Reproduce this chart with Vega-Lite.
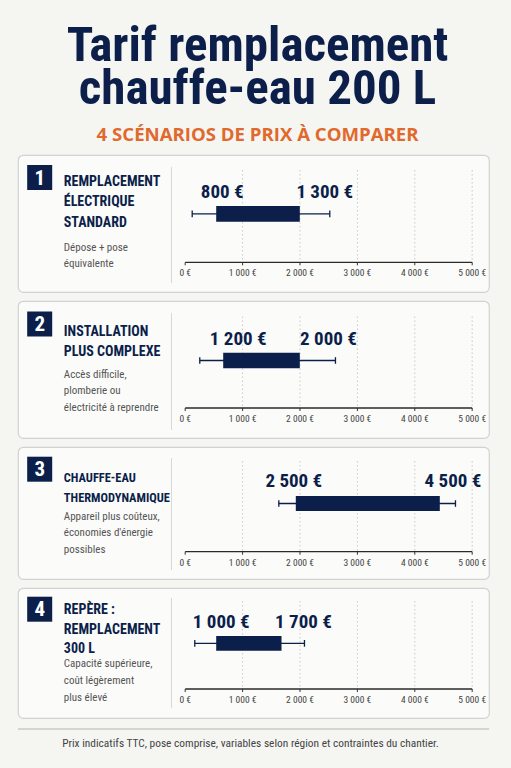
{
  "$schema": "https://vega.github.io/schema/vega-lite/v6.json",
  "padding": {"left": 17, "right": 22, "top": 21, "bottom": 14},
  "spacing": 9,
  "bounds": "flush",
  "title": {
    "text": ["Tarif remplacement", "chauffe-eau 200 L"],
    "subtitle": "4 SCÉNARIOS DE PRIX À COMPARER",
    "anchor": "middle",
    "dx": 4,
    "font": "Roboto Condensed, Roboto",
    "fontSize": 49,
    "fontWeight": "bold",
    "color": "#0c1f4a",
    "lineHeight": 43,
    "subtitleFont": "Open Sans",
    "subtitleFontSize": 18.6,
    "subtitleFontWeight": "bold",
    "subtitleColor": "#e0692b",
    "subtitlePadding": 12,
    "offset": 10
  },
  "datasets": {
    "scenarios": [
      {"id": 1, "num": "1", "title": "REMPLACEMENT\nÉLECTRIQUE\nSTANDARD", "desc": "Dépose + pose\néquivalente", "wlo": 122, "q1": 540, "q3": 1997, "whi": 2519, "lo_label": "800 €", "hi_label": "1 300 €"},
      {"id": 2, "num": "2", "title": "INSTALLATION\nPLUS COMPLEXE", "desc": "Accès difficile,\nplomberie ou\nélectricité à reprendre", "wlo": 254, "q1": 662, "q3": 1997, "whi": 2618, "lo_label": "1 200 €", "hi_label": "2 000 €"},
      {"id": 3, "num": "3", "title": "CHAUFFE-EAU\nTHERMODYNAMIQUE", "desc": "Appareil plus coûteux,\néconomies d'énergie\npossibles", "wlo": 1631, "q1": 1927, "q3": 4436, "whi": 4709, "lo_label": "2 500 €", "hi_label": "4 500 €"},
      {"id": 4, "num": "4", "title": "REPÈRE :\nREMPLACEMENT\n300 L", "desc": "Capacité supérieure,\ncoût légèrement\nplus élevé", "wlo": 167, "q1": 540, "q3": 1678, "whi": 2078, "lo_label": "1 000 €", "hi_label": "1 700 €"}
    ],
    "ticks": [
      {"v": 0, "label": "0 €"}, {"v": 1000, "label": "1 000 €"}, {"v": 2000, "label": "2 000 €"},
      {"v": 3000, "label": "3 000 €"}, {"v": 4000, "label": "4 000 €"}, {"v": 5000, "label": "5 000 €"}
    ],
    "notes": [{"note": "Prix indicatifs TTC, pose comprise, variables selon région et contraintes du chantier."}]
  },
  "vconcat": [
    {
      "width": 471, "height": 137,
      "data": {"name": "scenarios"},
      "transform": [{"filter": "datum.id == 1"}],
      "layer": [
        {"data": {"name": "ticks"}, "transform": [{"filter": "datum.v > 0"}], "mark": {"type": "rule", "color": "#c9c9c9", "strokeDash": [1.5, 2.5], "strokeWidth": 1},
         "encoding": {
           "x": {"field": "v", "type": "quantitative", "scale": {"domain": [-2913, 5293], "nice": false, "zero": false}},
           "y": {"datum": 15, "scale": {"domain": [0, 137], "reverse": true, "nice": false, "zero": false}},
           "y2": {"datum": 107.3}}},
        {"data": {"name": "ticks"}, "mark": {"type": "rule", "color": "#333333", "strokeWidth": 1},
         "encoding": {"x": {"field": "v", "type": "quantitative"}, "y": {"datum": 107.3}, "y2": {"datum": 110.3}}},
        {"data": {"name": "ticks"}, "mark": {"type": "text", "color": "#444444", "fontSize": 9.5, "align": "center", "baseline": "middle"},
         "encoding": {"x": {"field": "v", "type": "quantitative"}, "y": {"datum": 118.3}, "text": {"field": "label"}}},
        {"mark": {"type": "rule", "color": "#2a2a2a", "strokeWidth": 1.3},
         "encoding": {"x": {"datum": 0}, "x2": {"datum": 5000}, "y": {"datum": 107.3}}},
        {"mark": {"type": "rule", "color": "#d8d8d8", "strokeWidth": 1},
         "encoding": {"x": {"datum": -239}, "y": {"datum": 12}, "y2": {"datum": 128}}},
        {"mark": {"type": "rule", "color": "#0c1f4a", "strokeWidth": 1.3},
         "encoding": {"x": {"field": "wlo", "type": "quantitative"}, "x2": {"field": "whi"}, "y": {"datum": 58.85}}},
        {"mark": {"type": "rule", "color": "#0c1f4a", "strokeWidth": 1.3},
         "encoding": {"x": {"field": "wlo", "type": "quantitative"}, "y": {"datum": 55.5}, "y2": {"datum": 62.2}}},
        {"mark": {"type": "rule", "color": "#0c1f4a", "strokeWidth": 1.3},
         "encoding": {"x": {"field": "whi", "type": "quantitative"}, "y": {"datum": 55.5}, "y2": {"datum": 62.2}}},
        {"mark": {"type": "rect", "color": "#0c1f4a"},
         "encoding": {"x": {"field": "q1", "type": "quantitative"}, "x2": {"field": "q3"}, "y": {"datum": 51}, "y2": {"datum": 66.7}}},
        {"mark": {"type": "text", "color": "#0c1f4a", "fontSize": 19, "fontWeight": "bold", "align": "center", "baseline": "alphabetic", "dx": 6},
         "encoding": {"x": {"field": "q1", "type": "quantitative"}, "y": {"datum": 42.7}, "text": {"field": "lo_label"}}},
        {"mark": {"type": "text", "color": "#0c1f4a", "fontSize": 19, "fontWeight": "bold", "align": "center", "baseline": "alphabetic", "dx": -5},
         "encoding": {"x": {"field": "whi", "type": "quantitative"}, "y": {"datum": 42.7}, "text": {"field": "hi_label"}}},
        {"mark": {"type": "rect", "color": "#0c1f4a"},
         "encoding": {"x": {"datum": -2753}, "x2": {"datum": -2317}, "y": {"datum": 10}, "y2": {"datum": 35}}},
        {"mark": {"type": "text", "color": "#ffffff", "fontSize": 21, "fontWeight": "bold", "align": "center", "baseline": "middle", "dy": 1},
         "encoding": {"x": {"datum": -2535}, "y": {"datum": 22.5}, "text": {"field": "num"}}},
        {"mark": {"type": "text", "color": "#0c1f4a", "fontSize": 14, "fontWeight": "bold", "align": "left", "baseline": "alphabetic", "lineBreak": "\n", "lineHeight": 20.5},
         "encoding": {"x": {"datum": -2115}, "y": {"datum": 30.5}, "text": {"field": "title"}}},
        {"mark": {"type": "text", "color": "#555555", "fontSize": 11, "align": "left", "baseline": "alphabetic", "lineBreak": "\n", "lineHeight": 16.5},
         "encoding": {"x": {"datum": -2115}, "y": {"datum": 95.5}, "text": {"field": "desc"}}}
      ]
    },
    {
      "width": 471, "height": 137,
      "data": {"name": "scenarios"},
      "transform": [{"filter": "datum.id == 2"}],
      "layer": [
        {"data": {"name": "ticks"}, "transform": [{"filter": "datum.v > 0"}], "mark": {"type": "rule", "color": "#c9c9c9", "strokeDash": [1.5, 2.5], "strokeWidth": 1},
         "encoding": {
           "x": {"field": "v", "type": "quantitative", "scale": {"domain": [-2913, 5293], "nice": false, "zero": false}},
           "y": {"datum": 15.5, "scale": {"domain": [0, 137], "reverse": true, "nice": false, "zero": false}},
           "y2": {"datum": 107}}},
        {"data": {"name": "ticks"}, "mark": {"type": "rule", "color": "#333333", "strokeWidth": 1},
         "encoding": {"x": {"field": "v", "type": "quantitative"}, "y": {"datum": 107}, "y2": {"datum": 110}}},
        {"data": {"name": "ticks"}, "mark": {"type": "text", "color": "#444444", "fontSize": 9.5, "align": "center", "baseline": "middle"},
         "encoding": {"x": {"field": "v", "type": "quantitative"}, "y": {"datum": 118}, "text": {"field": "label"}}},
        {"mark": {"type": "rule", "color": "#2a2a2a", "strokeWidth": 1.3},
         "encoding": {"x": {"datum": 0}, "x2": {"datum": 5000}, "y": {"datum": 107}}},
        {"mark": {"type": "rule", "color": "#d8d8d8", "strokeWidth": 1},
         "encoding": {"x": {"datum": -239}, "y": {"datum": 12}, "y2": {"datum": 129}}},
        {"mark": {"type": "rule", "color": "#0c1f4a", "strokeWidth": 1.3},
         "encoding": {"x": {"field": "wlo", "type": "quantitative"}, "x2": {"field": "whi"}, "y": {"datum": 59.5}}},
        {"mark": {"type": "rule", "color": "#0c1f4a", "strokeWidth": 1.3},
         "encoding": {"x": {"field": "wlo", "type": "quantitative"}, "y": {"datum": 56.2}, "y2": {"datum": 62.8}}},
        {"mark": {"type": "rule", "color": "#0c1f4a", "strokeWidth": 1.3},
         "encoding": {"x": {"field": "whi", "type": "quantitative"}, "y": {"datum": 56.2}, "y2": {"datum": 62.8}}},
        {"mark": {"type": "rect", "color": "#0c1f4a"},
         "encoding": {"x": {"field": "q1", "type": "quantitative"}, "x2": {"field": "q3"}, "y": {"datum": 51.7}, "y2": {"datum": 67.3}}},
        {"mark": {"type": "text", "color": "#0c1f4a", "fontSize": 19, "fontWeight": "bold", "align": "center", "baseline": "alphabetic", "dx": 15},
         "encoding": {"x": {"field": "q1", "type": "quantitative"}, "y": {"datum": 44}, "text": {"field": "lo_label"}}},
        {"mark": {"type": "text", "color": "#0c1f4a", "fontSize": 19, "fontWeight": "bold", "align": "center", "baseline": "alphabetic", "dx": -7},
         "encoding": {"x": {"field": "whi", "type": "quantitative"}, "y": {"datum": 44}, "text": {"field": "hi_label"}}},
        {"mark": {"type": "rect", "color": "#0c1f4a"},
         "encoding": {"x": {"datum": -2753}, "x2": {"datum": -2317}, "y": {"datum": 10.5}, "y2": {"datum": 35.5}}},
        {"mark": {"type": "text", "color": "#ffffff", "fontSize": 21, "fontWeight": "bold", "align": "center", "baseline": "middle", "dy": 1},
         "encoding": {"x": {"datum": -2535}, "y": {"datum": 23}, "text": {"field": "num"}}},
        {"mark": {"type": "text", "color": "#0c1f4a", "fontSize": 14, "fontWeight": "bold", "align": "left", "baseline": "alphabetic", "lineBreak": "\n", "lineHeight": 20.5},
         "encoding": {"x": {"datum": -2115}, "y": {"datum": 34.5}, "text": {"field": "title"}}},
        {"mark": {"type": "text", "color": "#555555", "fontSize": 11, "align": "left", "baseline": "alphabetic", "lineBreak": "\n", "lineHeight": 16.8},
         "encoding": {"x": {"datum": -2115}, "y": {"datum": 76.5}, "text": {"field": "desc"}}}
      ]
    },
    {
      "width": 471, "height": 132,
      "data": {"name": "scenarios"},
      "transform": [{"filter": "datum.id == 3"}],
      "layer": [
        {"data": {"name": "ticks"}, "transform": [{"filter": "datum.v > 0"}], "mark": {"type": "rule", "color": "#c9c9c9", "strokeDash": [1.5, 2.5], "strokeWidth": 1},
         "encoding": {
           "x": {"field": "v", "type": "quantitative", "scale": {"domain": [-2913, 5293], "nice": false, "zero": false}},
           "y": {"datum": 14, "scale": {"domain": [0, 132], "reverse": true, "nice": false, "zero": false}},
           "y2": {"datum": 104.7}}},
        {"data": {"name": "ticks"}, "mark": {"type": "rule", "color": "#333333", "strokeWidth": 1},
         "encoding": {"x": {"field": "v", "type": "quantitative"}, "y": {"datum": 104.7}, "y2": {"datum": 107.7}}},
        {"data": {"name": "ticks"}, "mark": {"type": "text", "color": "#444444", "fontSize": 9.5, "align": "center", "baseline": "middle"},
         "encoding": {"x": {"field": "v", "type": "quantitative"}, "y": {"datum": 115.7}, "text": {"field": "label"}}},
        {"mark": {"type": "rule", "color": "#2a2a2a", "strokeWidth": 1.3},
         "encoding": {"x": {"datum": 0}, "x2": {"datum": 5000}, "y": {"datum": 104.7}}},
        {"mark": {"type": "rule", "color": "#d8d8d8", "strokeWidth": 1},
         "encoding": {"x": {"datum": -239}, "y": {"datum": 11}, "y2": {"datum": 123}}},
        {"mark": {"type": "rule", "color": "#0c1f4a", "strokeWidth": 1.3},
         "encoding": {"x": {"field": "wlo", "type": "quantitative"}, "x2": {"field": "whi"}, "y": {"datum": 56.5}}},
        {"mark": {"type": "rule", "color": "#0c1f4a", "strokeWidth": 1.3},
         "encoding": {"x": {"field": "wlo", "type": "quantitative"}, "y": {"datum": 53.2}, "y2": {"datum": 59.8}}},
        {"mark": {"type": "rule", "color": "#0c1f4a", "strokeWidth": 1.3},
         "encoding": {"x": {"field": "whi", "type": "quantitative"}, "y": {"datum": 53.2}, "y2": {"datum": 59.8}}},
        {"mark": {"type": "rect", "color": "#0c1f4a"},
         "encoding": {"x": {"field": "q1", "type": "quantitative"}, "x2": {"field": "q3"}, "y": {"datum": 49}, "y2": {"datum": 64}}},
        {"mark": {"type": "text", "color": "#0c1f4a", "fontSize": 19, "fontWeight": "bold", "align": "center", "baseline": "alphabetic", "dx": -2},
         "encoding": {"x": {"field": "q1", "type": "quantitative"}, "y": {"datum": 39.7}, "text": {"field": "lo_label"}}},
        {"mark": {"type": "text", "color": "#0c1f4a", "fontSize": 19, "fontWeight": "bold", "align": "center", "baseline": "alphabetic", "dx": -2.5},
         "encoding": {"x": {"field": "whi", "type": "quantitative"}, "y": {"datum": 39.7}, "text": {"field": "hi_label"}}},
        {"mark": {"type": "rect", "color": "#0c1f4a"},
         "encoding": {"x": {"datum": -2753}, "x2": {"datum": -2317}, "y": {"datum": 9.7}, "y2": {"datum": 34.7}}},
        {"mark": {"type": "text", "color": "#ffffff", "fontSize": 21, "fontWeight": "bold", "align": "center", "baseline": "middle", "dy": 1},
         "encoding": {"x": {"datum": -2535}, "y": {"datum": 22.2}, "text": {"field": "num"}}},
        {"mark": {"type": "text", "color": "#0c1f4a", "fontSize": 12.4, "fontWeight": "bold", "align": "left", "baseline": "alphabetic", "lineBreak": "\n", "lineHeight": 20.5},
         "encoding": {"x": {"datum": -2115}, "y": {"datum": 34.5}, "text": {"field": "title"}}},
        {"mark": {"type": "text", "color": "#555555", "fontSize": 11, "align": "left", "baseline": "alphabetic", "lineBreak": "\n", "lineHeight": 16.5},
         "encoding": {"x": {"datum": -2115}, "y": {"datum": 72.5}, "text": {"field": "desc"}}}
      ]
    },
    {
      "width": 471, "height": 130,
      "data": {"name": "scenarios"},
      "transform": [{"filter": "datum.id == 4"}],
      "layer": [
        {"data": {"name": "ticks"}, "transform": [{"filter": "datum.v > 0"}], "mark": {"type": "rule", "color": "#c9c9c9", "strokeDash": [1.5, 2.5], "strokeWidth": 1},
         "encoding": {
           "x": {"field": "v", "type": "quantitative", "scale": {"domain": [-2913, 5293], "nice": false, "zero": false}},
           "y": {"datum": 13, "scale": {"domain": [0, 130], "reverse": true, "nice": false, "zero": false}},
           "y2": {"datum": 101}}},
        {"data": {"name": "ticks"}, "mark": {"type": "rule", "color": "#333333", "strokeWidth": 1},
         "encoding": {"x": {"field": "v", "type": "quantitative"}, "y": {"datum": 101}, "y2": {"datum": 104}}},
        {"data": {"name": "ticks"}, "mark": {"type": "text", "color": "#444444", "fontSize": 9.5, "align": "center", "baseline": "middle"},
         "encoding": {"x": {"field": "v", "type": "quantitative"}, "y": {"datum": 112}, "text": {"field": "label"}}},
        {"mark": {"type": "rule", "color": "#2a2a2a", "strokeWidth": 1.3},
         "encoding": {"x": {"datum": 0}, "x2": {"datum": 5000}, "y": {"datum": 101}}},
        {"mark": {"type": "rule", "color": "#d8d8d8", "strokeWidth": 1},
         "encoding": {"x": {"datum": -239}, "y": {"datum": 10}, "y2": {"datum": 120}}},
        {"mark": {"type": "rule", "color": "#0c1f4a", "strokeWidth": 1.3},
         "encoding": {"x": {"field": "wlo", "type": "quantitative"}, "x2": {"field": "whi"}, "y": {"datum": 55.35}}},
        {"mark": {"type": "rule", "color": "#0c1f4a", "strokeWidth": 1.3},
         "encoding": {"x": {"field": "wlo", "type": "quantitative"}, "y": {"datum": 52}, "y2": {"datum": 58.7}}},
        {"mark": {"type": "rule", "color": "#0c1f4a", "strokeWidth": 1.3},
         "encoding": {"x": {"field": "whi", "type": "quantitative"}, "y": {"datum": 52}, "y2": {"datum": 58.7}}},
        {"mark": {"type": "rect", "color": "#0c1f4a"},
         "encoding": {"x": {"field": "q1", "type": "quantitative"}, "x2": {"field": "q3"}, "y": {"datum": 48}, "y2": {"datum": 62.7}}},
        {"mark": {"type": "text", "color": "#0c1f4a", "fontSize": 19, "fontWeight": "bold", "align": "center", "baseline": "alphabetic", "dx": 5},
         "encoding": {"x": {"field": "q1", "type": "quantitative"}, "y": {"datum": 40.3}, "text": {"field": "lo_label"}}},
        {"mark": {"type": "text", "color": "#0c1f4a", "fontSize": 19, "fontWeight": "bold", "align": "center", "baseline": "alphabetic", "dx": -1},
         "encoding": {"x": {"field": "whi", "type": "quantitative"}, "y": {"datum": 40.3}, "text": {"field": "hi_label"}}},
        {"mark": {"type": "rect", "color": "#0c1f4a"},
         "encoding": {"x": {"datum": -2753}, "x2": {"datum": -2317}, "y": {"datum": 8.7}, "y2": {"datum": 33.7}}},
        {"mark": {"type": "text", "color": "#ffffff", "fontSize": 21, "fontWeight": "bold", "align": "center", "baseline": "middle", "dy": 1},
         "encoding": {"x": {"datum": -2535}, "y": {"datum": 21.2}, "text": {"field": "num"}}},
        {"mark": {"type": "text", "color": "#0c1f4a", "fontSize": 14, "fontWeight": "bold", "align": "left", "baseline": "alphabetic", "lineBreak": "\n", "lineHeight": 19.5},
         "encoding": {"x": {"datum": -2115}, "y": {"datum": 26}, "text": {"field": "title"}}},
        {"mark": {"type": "text", "color": "#555555", "fontSize": 11, "align": "left", "baseline": "alphabetic", "lineBreak": "\n", "lineHeight": 17},
         "encoding": {"x": {"datum": -2115}, "y": {"datum": 78.5}, "text": {"field": "desc"}}}
      ]
    },
    {
      "width": 471, "height": 30,
      "view": {"stroke": null, "fill": null},
      "data": {"name": "notes"},
      "layer": [
        {"mark": {"type": "rule", "color": "#c8c8c8", "strokeWidth": 1.5},
         "encoding": {"x": {"datum": -2913, "scale": {"domain": [-2913, 5293], "nice": false, "zero": false}}, "x2": {"datum": 5293},
                      "y": {"datum": 2, "scale": {"domain": [0, 30], "reverse": true, "nice": false, "zero": false}}}},
        {"mark": {"type": "text", "color": "#444444", "fontSize": 11.4, "align": "center", "baseline": "middle"},
         "encoding": {"x": {"datum": 1138}, "y": {"datum": 17}, "text": {"field": "note"}}}
      ]
    }
  ],
  "config": {
    "background": "#f5f5f2",
    "font": "Roboto Condensed, Roboto",
    "axis": {"disable": true},
    "view": {"fill": "#fbfbfa", "stroke": "#d2d2d2", "strokeWidth": 1.2, "cornerRadius": 5}
  }
}
